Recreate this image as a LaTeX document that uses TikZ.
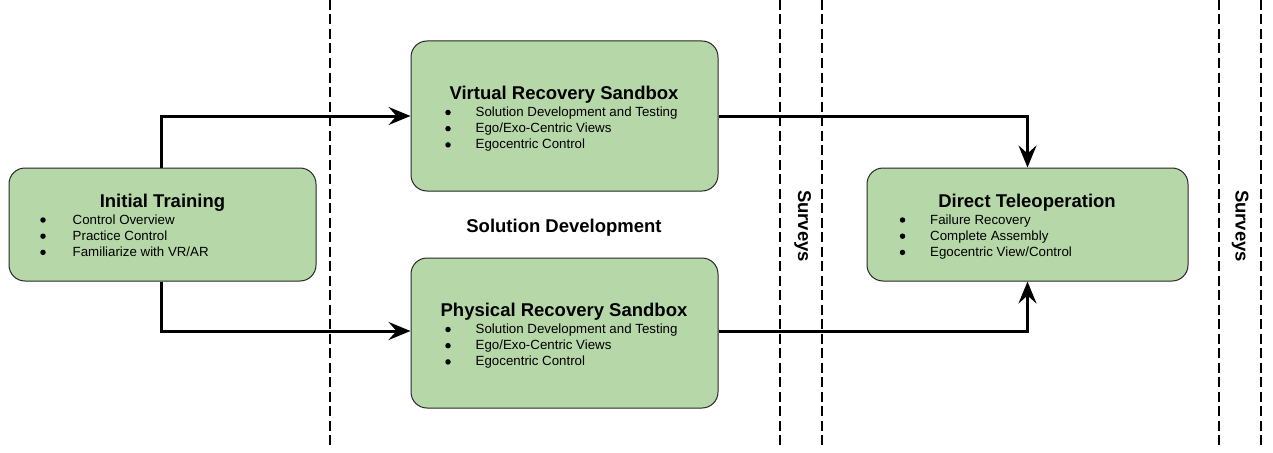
\documentclass[tikz,border=0pt]{standalone}
\usepackage{fontspec}
\setmainfont{Liberation Sans}
\usetikzlibrary{arrows.meta}
\definecolor{boxgreen}{HTML}{B6D7A8}
\tikzset{
  stagebox/.style={draw=black!85, line width=1pt, fill=boxgreen, rounded corners=16pt, inner sep=0pt},
  boxtitle/.style={font=\bfseries\fontsize{18.5}{20}\selectfont, inner sep=0pt, anchor=base},
  itemtext/.style={font=\fontsize{13.3}{16}\selectfont, inner sep=0pt, anchor=base west},
  itemdot/.style={circle, fill=black, inner sep=0pt, minimum size=5.5pt},
  flow/.style={line width=3pt, -{Stealth[length=22pt,width=18pt,inset=8pt]}},
  divider/.style={line width=1.8pt, dash pattern=on 10pt off 4.5pt},
  sidelabel/.style={font=\bfseries\fontsize{18.5}{20}\selectfont, rotate=-90, inner sep=0pt, anchor=base}
}
% three bullet lines: prefix, dot x, text x, first baseline, texts
\newcommand{\threeitems}[7]{%
  \node[itemdot] (#1d1) at (#2,#4-4) {};
  \node[itemdot] (#1d2) at (#2,#4+16.2-4) {};
  \node[itemdot] (#1d3) at (#2,#4+32.4-4) {};
  \node[itemtext] (#1t1) at (#3,#4) {#5};
  \node[itemtext] (#1t2) at (#3,#4+16.2) {#6};
  \node[itemtext] (#1t3) at (#3,#4+32.4) {#7};
}
\begin{document}
\begin{tikzpicture}[x=1pt,y=-1pt]
\useasboundingbox (0,0) rectangle (1273,452);
% dividers
\coordinate (d1t) at (330,0); \coordinate (d1b) at (330,445);
\coordinate (d2t) at (780,0); \coordinate (d2b) at (780,445);
\coordinate (d3t) at (822,0); \coordinate (d3b) at (822,445);
\coordinate (d4t) at (1219,0); \coordinate (d4b) at (1219,445);
\coordinate (d5t) at (1261,0); \coordinate (d5b) at (1261,445);
\foreach \d in {d1,d2,d3,d4,d5} \draw[divider] (\d t) -- (\d b);
% boxes
\node[stagebox, minimum width=307pt, minimum height=113pt] (init) at (162.5,224.5) {};
\node[stagebox, minimum width=307pt, minimum height=150pt] (virt) at (564.5,116) {};
\node[stagebox, minimum width=307pt, minimum height=150pt] (phys) at (564.5,333) {};
\node[stagebox, minimum width=321pt, minimum height=113pt] (tele) at (1027.5,224.5) {};
% titles
\node[boxtitle] (initT) at (162.5,207.5) {Initial Training};
\node[boxtitle] (virtT) at (564,99) {Virtual Recovery Sandbox};
\node[boxtitle] (physT) at (564,316) {Physical Recovery Sandbox};
\node[boxtitle] (teleT) at (1027,207.5) {Direct Teleoperation};
% bullets
\threeitems{init}{43}{72.5}{224}{Control Overview}{Practice Control}{Familiarize with VR/AR}
\threeitems{virt}{448}{475.5}{116.5}{Solution Development and Testing}{Ego/Exo-Centric Views}{Egocentric Control}
\threeitems{phys}{448}{475.5}{333.5}{Solution Development and Testing}{Ego/Exo-Centric Views}{Egocentric Control}
\threeitems{tele}{902.5}{930}{224}{Failure Recovery}{Complete Assembly}{Egocentric View/Control}
% labels
\node[font=\bfseries\fontsize{18.5}{20}\selectfont, inner sep=0pt, anchor=base] (soldev) at (564,232) {Solution Development};
\node[sidelabel] (surv1) at (798,226) {Surveys};
\node[sidelabel] (surv2) at (1235.5,226) {Surveys};
% connectors
\draw[flow] (init.north -| 161,0) |- (virt.west |- 0,116);
\draw[flow] (init.south -| 161,0) |- (phys.west |- 0,331);
\draw[flow] (virt.east |- 0,116) -| (tele.north);
\draw[flow] (phys.east |- 0,331) -| (tele.south);
\end{tikzpicture}
\end{document}
